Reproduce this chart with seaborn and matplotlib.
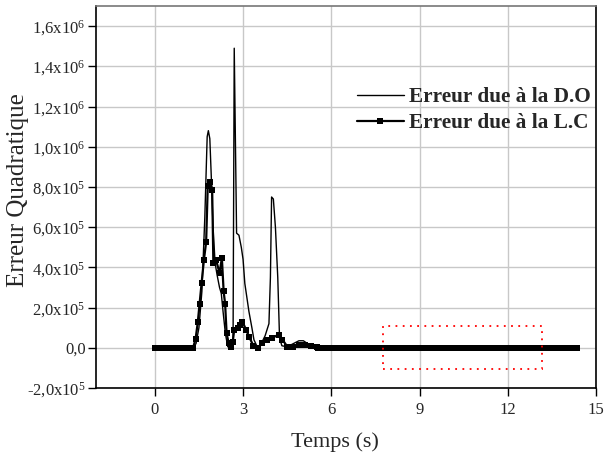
import numpy as np
import pandas as pd
import matplotlib
matplotlib.use("Agg")
import matplotlib.pyplot as plt
import seaborn as sns
from matplotlib.patches import Rectangle

# ---- data ----
t_do = [0.0, 1.25, 1.40, 1.50, 1.60, 1.70, 1.78, 1.82, 1.87, 1.92, 1.98, 2.05, 2.12,
        2.20, 2.26, 2.32, 2.40, 2.48, 2.55, 2.62, 2.66, 2.70, 2.78, 2.86, 2.94, 3.00,
        3.06, 3.20, 3.30, 3.37, 3.48, 3.60, 3.75, 3.88, 3.93, 3.97, 4.03, 4.10, 4.18,
        4.24, 4.32, 4.50, 4.70, 4.90, 5.05, 5.25, 5.50, 6.00, 14.40]
v_do = [0, 0, 2e4, 1e5, 2.8e5, 6.5e5, 1.05e6, 1.08e6, 1.04e6, 8.5e5, 6.0e5, 4.2e5, 3.6e5,
        3.0e5, 2.7e5, 1.8e5, 7e4, 5e3, 2e4, 2e4, 3e4, 1.49e6, 5.7e5, 5.6e5, 5.0e5, 4.4e5,
        3.2e5, 1.8e5, 1.0e5, 4e4, 5e3, 1.5e4, 6e4, 1.2e5, 3.5e5, 7.5e5, 7.4e5, 6.0e5, 3.5e5,
        5e4, 1e4, 5e3, 2e4, 3.5e4, 3.5e4, 1.5e4, 5e3, 0, 0]

t_lc_active = [1.30, 1.385, 1.46, 1.52, 1.59, 1.67, 1.745, 1.80, 1.88, 1.95, 1.99, 2.08,
               2.20, 2.28, 2.34, 2.39, 2.44, 2.51, 2.59, 2.65, 2.70, 2.82, 2.89, 2.98,
               3.10, 3.21, 3.35, 3.52, 3.66, 3.83, 4.00, 4.22, 4.34, 4.51, 4.70, 4.90,
               5.10, 5.30, 5.50]
v_lc_active = [0, 4.3e4, 1.26e5, 2.19e5, 3.22e5, 4.38e5, 5.26e5, 8.06e5, 8.27e5, 7.86e5,
               4.21e5, 4.38e5, 3.72e5, 4.46e5, 2.8e5, 2.19e5, 7.3e4, 2.3e4, 5e3, 3e4, 9e4,
               1.0e5, 1.14e5, 1.3e5, 9e4, 5.4e4, 1e4, 0, 2.5e4, 4e4, 5e4, 6.6e4, 4e4, 5e3,
               5e3, 1.5e4, 1.5e4, 1e4, 5e3]
t_lc_start = np.arange(0.0, 1.30, 0.05)       # flat (zero) section before the peaks
t_lc_tail = np.arange(5.55, 14.36, 0.05)      # flat (zero) section after the peaks
t_lc = list(t_lc_start) + t_lc_active + list(t_lc_tail)
v_lc = [0.0] * len(t_lc_start) + v_lc_active + [0.0] * len(t_lc_tail)

x_ticks = [0, 3, 6, 9, 12, 15]
y_ticks = [-2e5, 0, 2e5, 4e5, 6e5, 8e5, 1.0e6, 1.2e6, 1.4e6, 1.6e6]
y_tick_labels = [r"-2,0x10$^{5}$", "0,0", r"2,0x10$^{5}$", r"4,0x10$^{5}$",
                 r"6,0x10$^{5}$", r"8,0x10$^{5}$", r"1,0x10$^{6}$", r"1,2x10$^{6}$",
                 r"1,4x10$^{6}$", r"1,6x10$^{6}$"]
label_do = "Erreur due à la D.O"
label_lc = "Erreur due à la L.C"

df_do = pd.DataFrame({"t": t_do, "v": v_do})
df_lc = pd.DataFrame({"t": t_lc, "v": v_lc})

# ---- style ----
sns.set_style("white")
plt.rcParams["font.family"] = ["Liberation Serif", "DejaVu Serif"]
plt.rcParams["mathtext.fontset"] = "custom"
plt.rcParams["mathtext.rm"] = "Liberation Serif"
plt.rcParams["mathtext.it"] = "Liberation Serif"

fig = plt.figure(figsize=(6.06, 4.63), dpi=100)
ax = fig.add_axes([96 / 606, (463 - 388) / 463, 500 / 606, 382 / 463])

sns.lineplot(data=df_do, x="t", y="v", ax=ax, color="black", linewidth=1.0,
             label=label_do, sort=False)
sns.lineplot(data=df_lc, x="t", y="v", ax=ax, color="black", linewidth=1.6,
             marker="s", markersize=4, markeredgewidth=0, label=label_lc, sort=False)

ax.add_patch(Rectangle((7.75, -1.05e5), 5.4, 2.15e5, fill=False, edgecolor="red",
                       linestyle=(0, (1, 3)), linewidth=1.3, zorder=5))

ax.set_xlim(-2, 15)
ax.set_ylim(-2e5, 1.7e6)
ax.set_xticks(x_ticks)
ax.set_xticklabels([str(x) for x in x_ticks])
ax.set_yticks(y_ticks)
ax.set_yticklabels(y_tick_labels)
ax.grid(True, color="#c8c8c8", linewidth=1.0)
ax.set_axisbelow(True)
ax.tick_params(axis="both", which="major", direction="out", length=6, width=1.0,
               labelsize=12, color="black", bottom=True, left=True)
ax.tick_params(axis="x", pad=4)
ax.tick_params(axis="y", pad=1.5)
for side in ["left", "bottom", "right"]:
    ax.spines[side].set_color("black")
    ax.spines[side].set_linewidth(1.2)
ax.spines["top"].set_color("#777777")
ax.spines["top"].set_linewidth(1.2)

ax.set_xlabel("Temps (s)", fontsize=16)
ax.xaxis.set_label_coords(0.478, -0.115)
ax.set_ylabel("Erreur Quadratique", fontsize=18)
ax.yaxis.set_label_coords(-0.134, 0.518)

leg = ax.legend(loc="upper left", bbox_to_anchor=(0.522, 0.787), frameon=False,
                prop={"weight": "bold", "size": 15.3}, handlelength=2.2,
                handletextpad=0.25, borderpad=0, borderaxespad=0, labelspacing=0.28)

fig.savefig("out.png", dpi=100)
